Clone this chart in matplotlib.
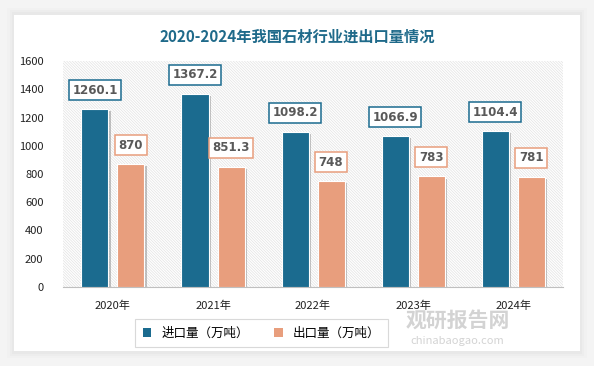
import numpy as np
import matplotlib
matplotlib.use("Agg")
import matplotlib.pyplot as plt
from matplotlib.patches import Rectangle
import matplotlib.patheffects as pe

plt.rcParams['font.family'] = ['Noto Sans CJK SC', 'DejaVu Sans']
plt.rcParams['hatch.color'] = '#e2e2e2'
plt.rcParams['hatch.linewidth'] = 0.5

# --- datos ---
years = ['2020年', '2021年', '2022年', '2023年', '2024年']
imports = [1260.1, 1367.2, 1098.2, 1066.9, 1104.4]
exports = [870, 851.3, 748, 783, 781]
import_labels = ['1260.1', '1367.2', '1098.2', '1066.9', '1104.4']
export_labels = ['870', '851.3', '748', '783', '781']

blue = '#1b6b8f'
orange = '#e89e7d'

fig = plt.figure(figsize=(5.94, 3.66), dpi=100)
fig.patch.set_facecolor('#f4f4f4')

# tarjeta blanca con sombra
for i, a in enumerate([0.04, 0.05, 0.07]):
    d = (3 - i) * 0.004
    fig.patches.append(Rectangle((0.024 - d, 0.04 - d * 1.6), 0.952 + 2 * d, 0.92 + 2 * d * 1.6,
                                 transform=fig.transFigure, facecolor='#b0b0b0',
                                 alpha=a, edgecolor='none', zorder=0))
fig.patches.append(Rectangle((0.024, 0.04), 0.952, 0.92, transform=fig.transFigure,
                             facecolor='white', edgecolor='none', zorder=1))

ax = fig.add_axes([0.106, 0.216, 0.842, 0.617])
ax.set_zorder(2)
ax.set_facecolor('white')
ax.add_patch(Rectangle((0, 0), 1, 1, transform=ax.transAxes, facecolor='white',
                       hatch='\\' * 12, edgecolor='#e2e2e2', linewidth=0, zorder=0))

x = np.arange(len(years))
w = 0.27
off = 0.18
shadow = [pe.SimplePatchShadow(offset=(1.5, -1.5), shadow_rgbFace='#888888', alpha=0.5), pe.Normal()]
b1 = ax.bar(x - off, imports, w, color=blue, edgecolor='white', linewidth=0.8, zorder=3,
            path_effects=shadow, label='进口量（万吨）')
b2 = ax.bar(x + off, exports, w, color=orange, edgecolor='white', linewidth=0.8, zorder=3,
            path_effects=shadow, label='出口量（万吨）')

for xi, v, s in zip(x, imports, import_labels):
    ax.annotate(s, (xi - off, v), xytext=(0, 9), textcoords='offset points', ha='center',
                va='bottom', fontsize=8.5, fontweight='bold', color='#595959', family='DejaVu Sans',
                bbox=dict(boxstyle='square,pad=0.3', fc='white', ec=blue, lw=1.1), zorder=5)
for xi, v, s in zip(x, exports, export_labels):
    ax.annotate(s, (xi + off, v), xytext=(0, 9), textcoords='offset points', ha='center',
                va='bottom', fontsize=8.5, fontweight='bold', color='#595959', family='DejaVu Sans',
                bbox=dict(boxstyle='square,pad=0.3', fc='white', ec=orange, lw=1.1), zorder=5)

ax.set_xlim(-0.5, len(years) - 0.5)
ax.set_ylim(0, 1600)
ax.set_yticks(range(0, 1601, 200))
ax.set_xticks(x)
ax.set_xticklabels(years)
ax.tick_params(axis='both', length=0, labelsize=8, colors='#222222')
ax.tick_params(axis='x', pad=10)
ax.tick_params(axis='y', pad=14)
for sp in ['top', 'right', 'left']:
    ax.spines[sp].set_visible(False)
ax.spines['bottom'].set_color('#bfbfbf')

fig.text(0.5, 0.9, '2020-2024年我国石材行业进出口量情况', ha='center', va='center',
         fontsize=11, fontweight='bold', color='#1f6a8a')

leg = fig.legend(handles=[b1, b2], loc='center', bbox_to_anchor=(0.44, 0.09), ncol=2,
                 frameon=True, fancybox=False, fontsize=9, handlelength=0.7, handleheight=0.7,
                 columnspacing=2, borderpad=0.6, edgecolor='#d0d0d0')
leg.get_frame().set_linewidth(0.8)
for h in leg.legend_handles:
    h.set_path_effects([])
    h.set_edgecolor('none')

# marca de agua
fig.text(0.77, 0.125, '观研报告网', ha='center', va='center', fontsize=15, fontweight='bold',
         color='#c8c8c8', alpha=0.8, zorder=10)
fig.text(0.77, 0.068, 'chinabaogao.com', ha='center', va='center', fontsize=8,
         color='#c8c8c8', alpha=0.8, zorder=10)

fig.savefig('out.png', dpi=100)
